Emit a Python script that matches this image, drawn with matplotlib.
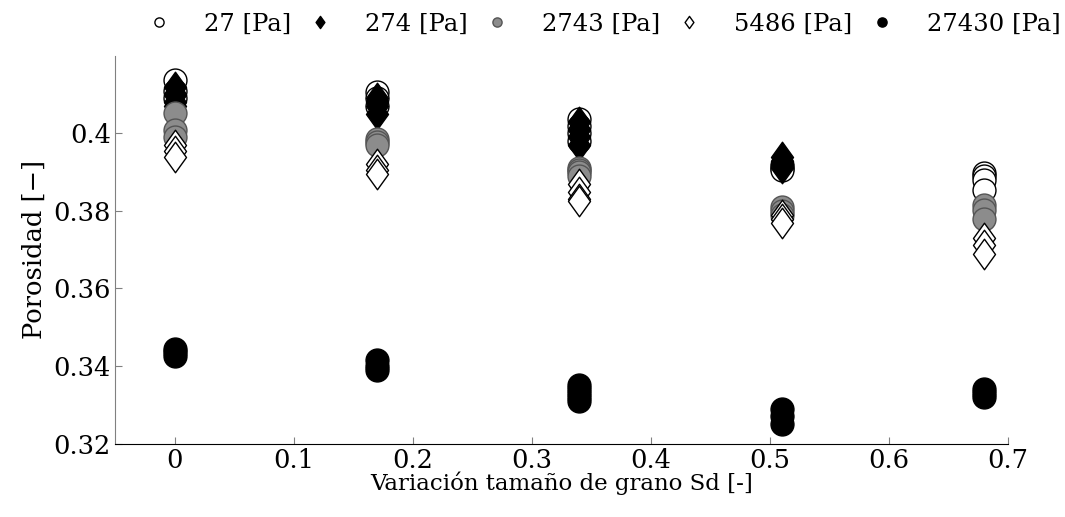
import numpy as np
import matplotlib.pyplot as plt
from matplotlib.path import Path

plt.rcParams['font.family'] = ['DejaVu Serif']
plt.rcParams['mathtext.fontset'] = 'dejavuserif'

# Sd values (x)
sd = [0, 0.17, 0.34, 0.51, 0.68]

# porosity readings per pressure, several repetitions per Sd
p27 = [
    [0.4138, 0.411, 0.409],
    [0.4107, 0.409, 0.407],
    [0.4037, 0.402, 0.400, 0.398],
    [0.3918, 0.3912, 0.3905],
    [0.3898, 0.389, 0.388, 0.3855],
]
p274 = [
    [0.412, 0.410, 0.408, 0.407],
    [0.409, 0.408, 0.407, 0.405],
    [0.403, 0.401, 0.399, 0.397],
    [0.394, 0.393, 0.392, 0.391],
    [],
]
p2743 = [
    [0.4053, 0.4009, 0.399],
    [0.3985, 0.3977, 0.397],
    [0.391, 0.3905, 0.390, 0.389],
    [0.381, 0.380, 0.379],
    [0.3815, 0.3803, 0.378],
]
p5486 = [
    [0.397, 0.3955, 0.394],
    [0.392, 0.3905, 0.3895],
    [0.387, 0.385, 0.383, 0.3825],
    [0.379, 0.378, 0.377],
    [0.373, 0.3712, 0.369],
]
p27430 = [
    [0.3445, 0.3435, 0.3425],
    [0.3415, 0.340, 0.339],
    [0.335, 0.334, 0.333, 0.332, 0.331],
    [0.329, 0.327, 0.325],
    [0.334, 0.333, 0.332],
]
labels = ["27 [Pa]", "274 [Pa]", "2743 [Pa]", "5486 [Pa]", "27430 [Pa]"]

diamond = Path([(0, 1), (0.72, 0), (0, -1), (-0.72, 0), (0, 1)],
               [Path.MOVETO, Path.LINETO, Path.LINETO, Path.LINETO, Path.CLOSEPOLY])

styles = [
    dict(marker="o", mfc="white", mec="black", ms=16.5),
    dict(marker=diamond, mfc="black", mec="black", ms=22),
    dict(marker="o", mfc="#8c8c8c", mec="#555555", ms=16.5),
    dict(marker=diamond, mfc="white", mec="black", ms=22),
    dict(marker="o", mfc="black", mec="black", ms=16.5),
]

fig = plt.figure(figsize=(10.65, 5.17), dpi=100)
ax = fig.add_axes([0.108, 0.142, 0.8385, 0.75])

for series, st, lab in zip([p27, p274, p2743, p5486, p27430], styles, labels):
    xs, ys = [], []
    for x, vals in zip(sd, series):
        xs += [x] * len(vals)
        ys += vals
    ax.plot(xs, ys, ls="none", mew=1.0, label=lab, **st)

ax.set_xlim(-0.05, 0.7)
ax.set_ylim(0.32, 0.42)
ax.set_xticks([0, 0.1, 0.2, 0.3, 0.4, 0.5, 0.6, 0.7])
ax.set_xticklabels(["0", "0.1", "0.2", "0.3", "0.4", "0.5", "0.6", "0.7"])
ax.set_yticks([0.32, 0.34, 0.36, 0.38, 0.4])
ax.set_yticklabels(["0.32", "0.34", "0.36", "0.38", "0.4"])
ax.tick_params(direction="in", length=5, color="gray", labelsize=18.5, pad=3)
ax.spines["top"].set_visible(False)
ax.spines["right"].set_visible(False)
ax.spines["left"].set_color("gray")
ax.spines["bottom"].set_color("black")

ax.set_xlabel("Variación tamaño de grano Sd [-]", fontsize=16.5, labelpad=-1)
ax.set_ylabel("Porosidad [−]", fontsize=18.5, labelpad=5)

handles, labs = ax.get_legend_handles_labels()
leg = fig.legend(handles, labs, loc="upper center", ncol=5, frameon=False,
                 bbox_to_anchor=(0.565, 1.018), fontsize=17.5, markerscale=0.4,
                 handlelength=1.3, handletextpad=1.2, columnspacing=0.55)

fig.savefig("out.png", dpi=100)
